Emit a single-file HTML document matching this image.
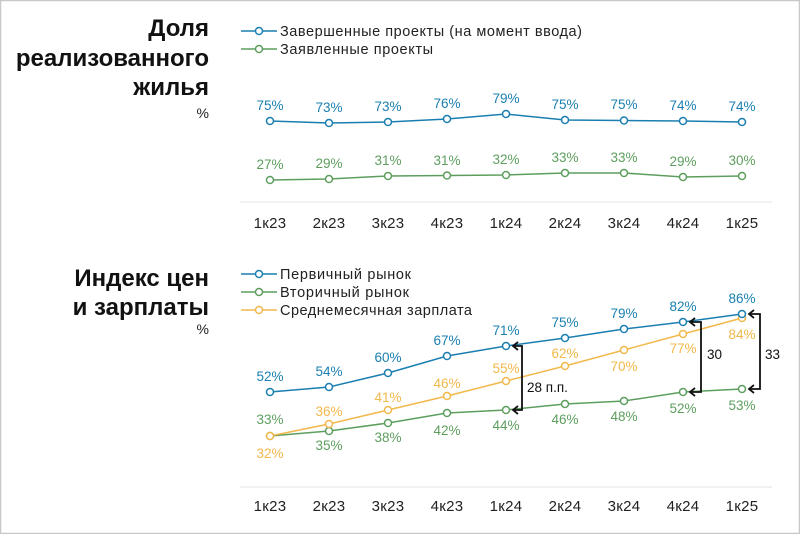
<!DOCTYPE html>
<html><head><meta charset="utf-8"><style>
html,body{margin:0;padding:0;background:#fff}
svg{display:block}
text{font-family:"Liberation Sans","DejaVu Sans",sans-serif}
</style></head><body>
<svg width="800" height="534" viewBox="0 0 800 534" xmlns="http://www.w3.org/2000/svg">
<rect x="0.5" y="0.5" width="799" height="533" fill="#fff" stroke="#c8c8c8" stroke-width="1.5"/>
<g font-weight="bold" font-size="24" fill="#111" text-anchor="end">
<text x="209" y="36">Доля</text>
<text x="209" y="66">реализованного</text>
<text x="209" y="95">жилья</text>
<text x="209" y="286">Индекс цен</text>
<text x="209" y="315">и зарплаты</text>
</g>
<g font-size="14" fill="#222" text-anchor="end">
<text x="209" y="118">%</text>
<text x="209" y="334">%</text>
</g>
<g font-size="14.5" fill="#222">
<line x1="241" y1="31" x2="277" y2="31" stroke="#1a7fb0" stroke-width="1.5"/><circle cx="259" cy="31" r="3.5" fill="#fff" stroke="#1a7fb0" stroke-width="1.5"/>
<text x="280" y="36" textLength="302" lengthAdjust="spacing">Завершенные проекты (на момент ввода)</text>
<line x1="241" y1="49" x2="277" y2="49" stroke="#5d9e5e" stroke-width="1.5"/><circle cx="259" cy="49" r="3.5" fill="#fff" stroke="#5d9e5e" stroke-width="1.5"/>
<text x="280" y="54" textLength="153" lengthAdjust="spacing">Заявленные проекты</text>
<line x1="241" y1="274" x2="277" y2="274" stroke="#1a7fb0" stroke-width="1.5"/><circle cx="259" cy="274" r="3.5" fill="#fff" stroke="#1a7fb0" stroke-width="1.5"/>
<text x="280" y="279" textLength="131" lengthAdjust="spacing">Первичный рынок</text>
<line x1="241" y1="292" x2="277" y2="292" stroke="#5d9e5e" stroke-width="1.5"/><circle cx="259" cy="292" r="3.5" fill="#fff" stroke="#5d9e5e" stroke-width="1.5"/>
<text x="280" y="297" textLength="129" lengthAdjust="spacing">Вторичный рынок</text>
<line x1="241" y1="310" x2="277" y2="310" stroke="#f2b84b" stroke-width="1.5"/><circle cx="259" cy="310" r="3.5" fill="#fff" stroke="#f2b84b" stroke-width="1.5"/>
<text x="280" y="315" textLength="192" lengthAdjust="spacing">Среднемесячная зарплата</text>
</g>
<line x1="240" y1="202" x2="772" y2="202" stroke="#e6e6e6"/>
<line x1="240" y1="487" x2="772" y2="487" stroke="#e6e6e6"/>
<g font-size="15" fill="#222" text-anchor="middle" letter-spacing="0.3">
<text x="270" y="228">1к23</text><text x="329" y="228">2к23</text><text x="388" y="228">3к23</text><text x="447" y="228">4к23</text><text x="506" y="228">1к24</text><text x="565" y="228">2к24</text><text x="624" y="228">3к24</text><text x="683" y="228">4к24</text><text x="742" y="228">1к25</text>
<text x="270" y="511">1к23</text><text x="329" y="511">2к23</text><text x="388" y="511">3к23</text><text x="447" y="511">4к23</text><text x="506" y="511">1к24</text><text x="565" y="511">2к24</text><text x="624" y="511">3к24</text><text x="683" y="511">4к24</text><text x="742" y="511">1к25</text>
</g>
<g fill="none" stroke-width="1.5">
<polyline stroke="#1a7fb0" points="270,121 329,123 388,122 447,119 506,114 565,120 624,120.5 683,121 742,122"/>
<polyline stroke="#5d9e5e" points="270,180 329,179 388,176 447,175.5 506,175 565,173 624,173 683,177 742,176"/>
<polyline stroke="#5d9e5e" points="270,436 329,431 388,423 447,413 506,410 565,404 624,401 683,392 742,389"/>
<polyline stroke="#f2b84b" points="270,436 329,424 388,410 447,396 506,381 565,366 624,350 683,334 742,318"/>
<polyline stroke="#1a7fb0" points="270,392 329,387 388,373 447,356 506,346 565,338 624,329 683,322 742,314"/>
</g>
<g fill="#fff" stroke-width="1.5">
<g stroke="#1a7fb0"><circle cx="270" cy="121" r="3.5"/><circle cx="329" cy="123" r="3.5"/><circle cx="388" cy="122" r="3.5"/><circle cx="447" cy="119" r="3.5"/><circle cx="506" cy="114" r="3.5"/><circle cx="565" cy="120" r="3.5"/><circle cx="624" cy="120.5" r="3.5"/><circle cx="683" cy="121" r="3.5"/><circle cx="742" cy="122" r="3.5"/></g>
<g stroke="#5d9e5e"><circle cx="270" cy="180" r="3.5"/><circle cx="329" cy="179" r="3.5"/><circle cx="388" cy="176" r="3.5"/><circle cx="447" cy="175.5" r="3.5"/><circle cx="506" cy="175" r="3.5"/><circle cx="565" cy="173" r="3.5"/><circle cx="624" cy="173" r="3.5"/><circle cx="683" cy="177" r="3.5"/><circle cx="742" cy="176" r="3.5"/></g>
<g stroke="#5d9e5e"><circle cx="270" cy="436" r="3.5"/><circle cx="329" cy="431" r="3.5"/><circle cx="388" cy="423" r="3.5"/><circle cx="447" cy="413" r="3.5"/><circle cx="506" cy="410" r="3.5"/><circle cx="565" cy="404" r="3.5"/><circle cx="624" cy="401" r="3.5"/><circle cx="683" cy="392" r="3.5"/><circle cx="742" cy="389" r="3.5"/></g>
<g stroke="#f2b84b"><circle cx="270" cy="436" r="3.5"/><circle cx="329" cy="424" r="3.5"/><circle cx="388" cy="410" r="3.5"/><circle cx="447" cy="396" r="3.5"/><circle cx="506" cy="381" r="3.5"/><circle cx="565" cy="366" r="3.5"/><circle cx="624" cy="350" r="3.5"/><circle cx="683" cy="334" r="3.5"/><circle cx="742" cy="318" r="3.5"/></g>
<g stroke="#1a7fb0"><circle cx="270" cy="392" r="3.5"/><circle cx="329" cy="387" r="3.5"/><circle cx="388" cy="373" r="3.5"/><circle cx="447" cy="356" r="3.5"/><circle cx="506" cy="346" r="3.5"/><circle cx="565" cy="338" r="3.5"/><circle cx="624" cy="329" r="3.5"/><circle cx="683" cy="322" r="3.5"/><circle cx="742" cy="314" r="3.5"/></g>
</g>
<g font-size="13.5" text-anchor="middle">
<g fill="#1a7fb0"><text x="270" y="110">75%</text><text x="329" y="112">73%</text><text x="388" y="111">73%</text><text x="447" y="108">76%</text><text x="506" y="103">79%</text><text x="565" y="109">75%</text><text x="624" y="109">75%</text><text x="683" y="110">74%</text><text x="742" y="111">74%</text></g>
<g fill="#5d9e5e"><text x="270" y="169">27%</text><text x="329" y="168">29%</text><text x="388" y="165">31%</text><text x="447" y="165">31%</text><text x="506" y="164">32%</text><text x="565" y="162">33%</text><text x="624" y="162">33%</text><text x="683" y="166">29%</text><text x="742" y="165">30%</text></g>
<g fill="#1a7fb0"><text x="270" y="381">52%</text><text x="329" y="376">54%</text><text x="388" y="362">60%</text><text x="447" y="345">67%</text><text x="506" y="335">71%</text><text x="565" y="327">75%</text><text x="624" y="318">79%</text><text x="683" y="311">82%</text><text x="742" y="303">86%</text></g>
<g fill="#f2b84b"><text x="270" y="458">32%</text><text x="329" y="416">36%</text><text x="388" y="402">41%</text><text x="447" y="388">46%</text><text x="506" y="373">55%</text><text x="565" y="358">62%</text><text x="624" y="371">70%</text><text x="683" y="353">77%</text><text x="742" y="339">84%</text></g>
<g fill="#5d9e5e"><text x="270" y="424">33%</text><text x="329" y="450">35%</text><text x="388" y="442">38%</text><text x="447" y="435">42%</text><text x="506" y="430">44%</text><text x="565" y="424">46%</text><text x="624" y="421">48%</text><text x="683" y="413">52%</text><text x="742" y="410">53%</text></g>
</g>
<g stroke="#111" stroke-width="1.8" fill="none">
<path d="M513,346 H522 V410 H513"/><path d="M518,342 L513,346 L518,350 M518,406 L513,410 L518,414"/>
<path d="M690,322 H701 V392 H690"/><path d="M695,318 L690,322 L695,326 M695,388 L690,392 L695,396"/>
<path d="M749,314 H760 V389 H749"/><path d="M754,310 L749,314 L754,318 M754,385 L749,389 L754,393"/>
</g>
<g font-size="13.5" fill="#111">
<text x="527" y="392">28 п.п.</text>
<text x="707" y="359">30</text>
<text x="765" y="359">33</text>
</g>
</svg>
</body></html>
